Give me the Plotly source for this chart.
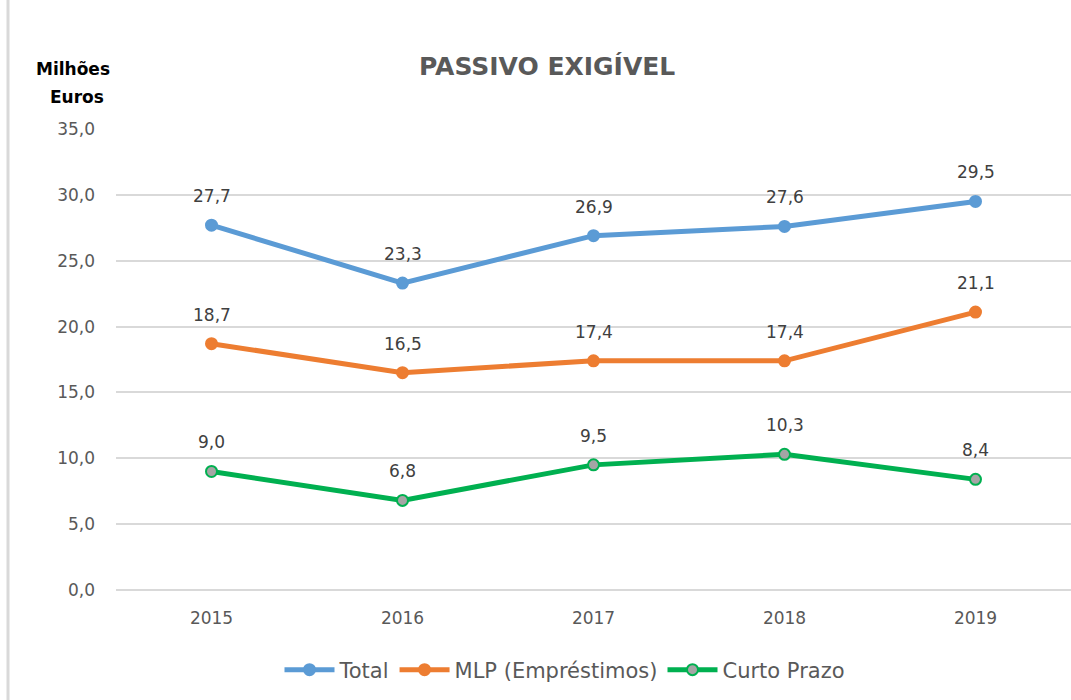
import plotly.graph_objects as go

years = ["2015", "2016", "2017", "2018", "2019"]
total = [27.7, 23.3, 26.9, 27.6, 29.5]
mlp = [18.7, 16.5, 17.4, 17.4, 21.1]
curto = [9.0, 6.8, 9.5, 10.3, 8.4]
y_ticks = [0, 5, 10, 15, 20, 25, 30, 35]
y_tick_labels = ["0,0", "5,0", "10,0", "15,0", "20,0", "25,0", "30,0", "35,0"]

FONT = "DejaVu Sans"
GRAY = "#595959"

fig = go.Figure()
series = [
    ("Total", total, "#5B9BD5", "#5B9BD5", "#5B9BD5"),
    ("MLP (Empréstimos)", mlp, "#ED7D31", "#ED7D31", "#ED7D31"),
    ("Curto Prazo", curto, "#00B050", "#A5A5A5", "#00B050"),
]
idx = list(range(len(years)))
for name, vals, lc, mfill, mline in series:
    fig.add_trace(go.Scatter(
        x=idx, y=vals, name=name, mode="lines+markers",
        line=dict(color=lc, width=5),
        marker=dict(size=11, color=mfill, line=dict(color=mline, width=2)),
        cliponaxis=False,
    ))
    for xv, yv in zip(idx, vals):
        fig.add_annotation(
            x=xv, y=yv, text=f"{yv:.1f}".replace(".", ","), showarrow=False,
            yshift=29, font=dict(family=FONT, size=17, color="#404040"),
        )

fig.add_annotation(xref="paper", yref="paper", x=(547 - 116) / 955, y=1, yshift=79,
                   text="<b>PASSIVO EXIGÍVEL</b>", showarrow=False,
                   font=dict(family=FONT, size=25, color=GRAY), xanchor="center")
fig.add_annotation(xref="paper", yref="paper", x=(73 - 116) / 955, y=1, yshift=72,
                   text="<b>Milhões</b>", showarrow=False,
                   font=dict(family=FONT, size=17, color="black"), xanchor="center")
fig.add_annotation(xref="paper", yref="paper", x=(77 - 116) / 955, y=1, yshift=44,
                   text="<b>Euros</b>", showarrow=False,
                   font=dict(family=FONT, size=17, color="black"), xanchor="center")

fig.add_shape(type="line", xref="paper", yref="paper", x0=(8 - 116) / 955, x1=(8 - 116) / 955,
              y0=-0.25, y1=1.3, line=dict(color="#D9D9D9", width=3))

fig.update_layout(
    width=1071, height=700,
    margin=dict(l=116, r=0, t=129, b=110),
    paper_bgcolor="white", plot_bgcolor="white",
    showlegend=True,
    legend=dict(orientation="h", x=(565 - 116) / 955, xanchor="center", y=-(670 - 590) / 461,
                yanchor="middle", font=dict(family=FONT, size=21, color=GRAY),
                itemwidth=50, traceorder="normal"),
    xaxis=dict(range=[-0.5, 4.5], tickvals=idx, ticktext=years, showgrid=False,
               showline=False, zeroline=False, ticks="",
               tickfont=dict(family=FONT, size=17, color=GRAY)),
    yaxis=dict(range=[0, 35], tickvals=y_ticks, ticktext=y_tick_labels,
               showgrid=True, gridcolor="#D9D9D9", gridwidth=2, zeroline=True,
               zerolinecolor="#D9D9D9", zerolinewidth=2, ticks="",
               tickfont=dict(family=FONT, size=17, color=GRAY)),
)
fig.update_yaxes(ticklabelstandoff=20)
fig.update_xaxes(ticklabelstandoff=16)

fig.write_html(
    "out.html",
    config={"displayModeBar": False},
    post_script="document.body.style.margin='0';document.body.style.overflow='hidden';",
)
